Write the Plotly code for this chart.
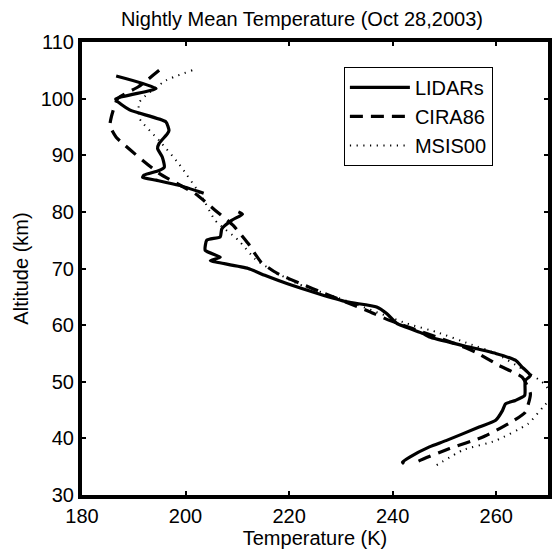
import plotly.graph_objects as go

# LIDARs (two instruments, gap between ~83 and ~80 km)
lidar_T = [186.6, 194.3, 186.5, 189.2, 196.2, 196.8, 196.5, 194.9, 194.6, 195.5, 195.9, 194.9, 192.0, 191.7, 194.3, 198.7, 203.5,
           None,
           210.2, 211.0, 208.9, 207.0, 206.7, 204.1, 203.8, 206.7, 204.8, 206.1, 212.1, 215.3, 219.7, 225.5, 231.2, 236.9, 238.9,
           240.8, 245.9, 247.1, 253.5, 259.9, 263.7, 265.0, 266.6, 265.6, 265.5, 263.7, 261.8, 261.2, 259.9, 256.7, 250.3,
           247.1, 243.3, 241.9, 242.2]
lidar_Z = [104.0, 101.8, 99.9, 98.0, 95.9, 94.4, 93.8, 92.1, 91.2, 89.7, 87.9, 87.3, 86.5, 86.1, 85.6, 84.7, 83.3,
           None,
           80.0, 79.6, 78.5, 77.0, 75.6, 75.0, 73.2, 72.0, 71.4, 71.1, 70.0, 68.8, 67.3, 65.6, 64.1, 63.2, 62.0,
           60.3, 58.5, 57.9, 56.4, 55.0, 53.8, 52.6, 51.1, 50.2, 47.6, 46.7, 46.1, 44.9, 43.2, 42.0, 39.6,
           38.5, 36.7, 35.8, 35.5]

cira_T = [194.9, 190.9, 186.9, 185.4, 186.6, 194.9, 201.9, 205.7, 209.2, 212.1, 214.6, 217.8, 222.3, 226.8, 235.0,
          239.5, 252.2, 256.1, 260.5, 265.0, 266.6, 265.6, 262.4, 257.3, 251.0, 244.6, 244.3]
cira_Z = [105.0, 102.1, 100.0, 95.3, 93.2, 86.8, 83.2, 80.3, 77.6, 74.4, 71.1, 69.1, 67.3, 65.6, 62.6,
          60.8, 56.7, 55.2, 52.9, 50.8, 47.9, 44.6, 42.6, 40.2, 38.2, 35.8, 35.5]

msis_T = [201.3, 196.2, 191.1, 191.1, 194.9, 198.7, 203.2, 205.7, 210.2, 213.4, 217.2, 221.7, 232.0, 242.7, 248.4,
          254.8, 259.9, 265.5, 269.2, 270.8, 269.0, 266.2, 259.9, 253.5, 247.8]
msis_Z = [105.0, 103.2, 99.4, 96.5, 92.6, 88.5, 82.6, 78.5, 75.0, 71.7, 69.4, 67.3, 64.0, 60.3, 58.8,
          56.7, 55.0, 52.0, 49.7, 47.5, 45.5, 42.6, 39.6, 37.9, 34.9]

x_ticks = [180, 200, 220, 240, 260]
y_ticks = [30, 40, 50, 60, 70, 80, 90, 100, 110]

FONT = "Liberation Sans, Arial, Helvetica, sans-serif"
FS = 20

fig = go.Figure()
fig.add_trace(go.Scatter(x=lidar_T, y=lidar_Z, mode="lines", name="LIDARs",
                         line=dict(color="black", width=3.2, shape="spline", smoothing=0.5),
                         connectgaps=False))
fig.add_trace(go.Scatter(x=cira_T, y=cira_Z, mode="lines", name="CIRA86",
                         line=dict(color="black", width=3.2, dash="13px,8px", shape="spline", smoothing=0.5)))
fig.add_trace(go.Scatter(x=msis_T, y=msis_Z, mode="lines", name="MSIS00",
                         line=dict(color="black", width=2, dash="1.2px,5.5px", shape="spline", smoothing=0.5)))

axis_common = dict(showgrid=False, zeroline=False, showline=True, linecolor="black", linewidth=4,
                   mirror="ticks", ticks="inside", ticklen=4, tickwidth=2, tickcolor="black",
                   tickfont=dict(size=FS, color="black", family=FONT))

fig.update_layout(
    width=553, height=554,
    margin=dict(l=82, r=1, t=42, b=59),
    paper_bgcolor="white", plot_bgcolor="white",
    font=dict(family=FONT, color="black", size=FS),
    title=dict(text="Nightly Mean Temperature (Oct 28,2003)", x=0.546, xanchor="center",
               y=0.979, yanchor="top", font=dict(size=FS, family=FONT, color="black")),
    xaxis=dict(range=[180, 270], tickvals=x_ticks, ticktext=[str(v) for v in x_ticks],
               title=dict(text="Temperature (K)", font=dict(size=FS), standoff=0), **axis_common),
    yaxis=dict(range=[30, 110], tickvals=y_ticks, ticktext=[str(v) for v in y_ticks],
               title=dict(text="Altitude (km)", font=dict(size=FS), standoff=8), **axis_common),
    showlegend=True,
    legend=dict(x=0.562, y=0.945, xanchor="left", yanchor="top", bgcolor="white",
                bordercolor="black", borderwidth=1, font=dict(size=FS, family=FONT),
                itemwidth=60, tracegroupgap=0),
)

fig.write_html("out.html")
